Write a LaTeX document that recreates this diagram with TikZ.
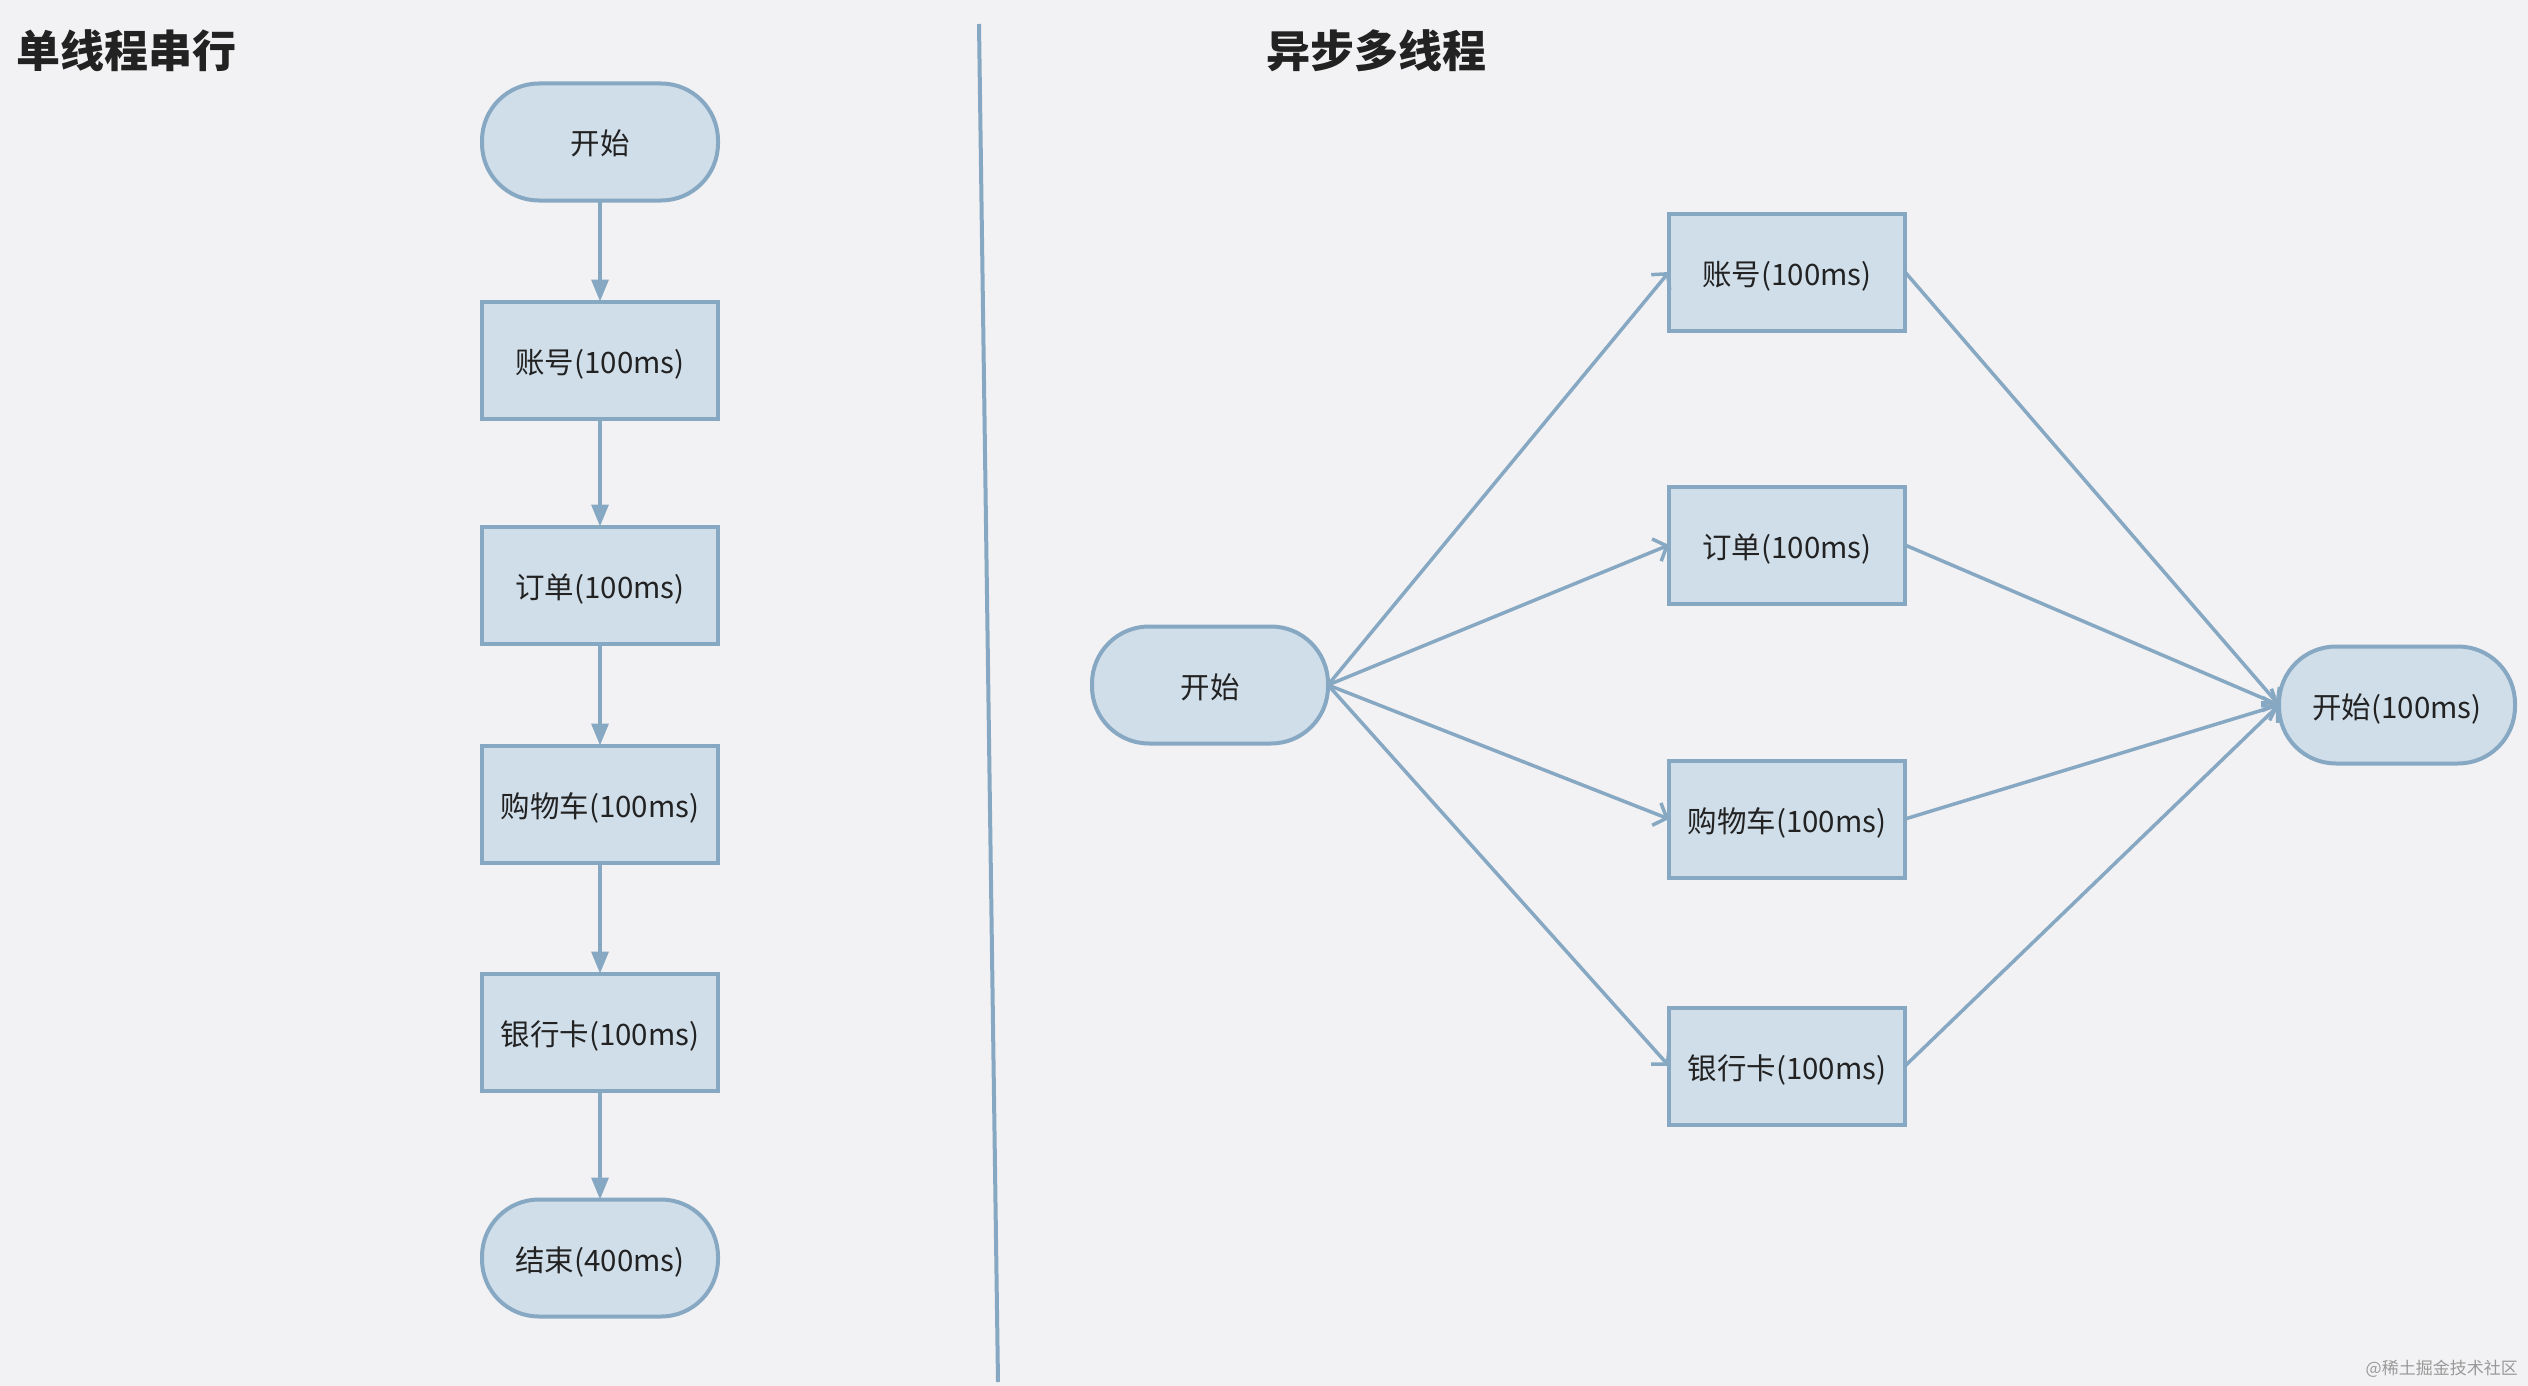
\documentclass[tikz,border=0pt]{standalone}
\usepackage{fontspec}
\usetikzlibrary{arrows.meta}
\newfontfamily\cjk{Noto Sans CJK SC}
\definecolor{bgc}{HTML}{F2F2F4}
\definecolor{edgec}{HTML}{87A8C3}
\definecolor{fillc}{HTML}{D0DEEA}
\definecolor{txtc}{HTML}{222222}
\begin{document}
\begin{tikzpicture}[x=1pt,y=-1pt,
  box/.style={draw=edgec, fill=fillc, line width=4pt, rectangle,
    minimum width=236pt, minimum height=117pt, inner sep=0pt, outer sep=0pt,
    text height=28pt, text depth=2pt,
    text=txtc, font=\cjk\fontsize{29.5}{36}\selectfont},
  term/.style={box, rounded corners=57pt},
  title/.style={anchor=west, inner sep=0pt, text=txtc, font=\cjk\bfseries\fontsize{44}{50}\selectfont},
  down/.style={draw=edgec, line width=3.5pt, -{Triangle[width=17pt,length=22pt]}},
  fan/.style={draw=edgec, line width=3.5pt, -{Straight Barb[length=11pt,width=24pt,line width=3.5pt]}}
]
\useasboundingbox (0,0) rectangle (2528,1386);
\fill[bgc] (0,0) rectangle (2528,1386);

% titles
\node[title] (t1) at (16,51) {单线程串行};
\node[title] (t2) at (1266,51) {异步多线程};

% divider
\coordinate (d1) at (979,24);
\coordinate (d2) at (998,1382);
\draw[edgec, line width=4pt] (d1) -- (d2);

% left column
\node[term] (ls) at (600,142) {开始};
\node[box] (l1) at (600,360) {账号(100ms)};
\node[box] (l2) at (600,585) {订单(100ms)};
\node[box] (l3) at (600,804) {购物车(100ms)};
\node[box] (l4) at (600,1032) {银行卡(100ms)};
\node[term] (le) at (600,1258) {结束(400ms)};
\draw[down] (ls.south) -- (l1.north);
\draw[down] (l1.south) -- (l2.north);
\draw[down] (l2.south) -- (l3.north);
\draw[down] (l3.south) -- (l4.north);
\draw[down] (l4.south) -- (le.north);

% right side
\node[term] (rs) at (1210,685) {开始};
\node[box] (r1) at (1787,272) {账号(100ms)};
\node[box] (r2) at (1787,545) {订单(100ms)};
\node[box] (r3) at (1787,819) {购物车(100ms)};
\node[box] (r4) at (1787,1066) {银行卡(100ms)};
\node[term] (re) at (2397,705) {开始(100ms)};
\foreach \b in {r1,r2,r3,r4}{
  \draw[fan] (rs.east) -- (\b.west);
  \draw[fan] (\b.east) -- (re.west);
}

% watermark
\node[anchor=east, inner sep=0pt, text=black!40, font=\cjk\fontsize{17}{20}\selectfont] (wm) at (2518,1369) {@稀土掘金技术社区};
\end{tikzpicture}
\end{document}
